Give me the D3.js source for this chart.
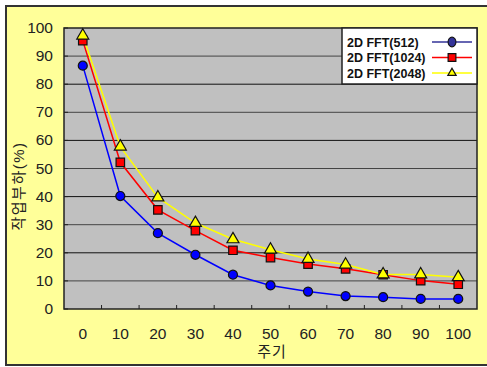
<!DOCTYPE html>
<html>
<head>
<meta charset="utf-8">
<script src="https://cdn.jsdelivr.net/npm/d3@7"></script>
<style>
body { margin: 0; background: #fff; }
text { font-family: "Liberation Sans", Arial, "Noto Sans CJK KR", sans-serif; }
</style>
</head>
<body>
<svg width="487" height="367"></svg>
<script>
var periods = [0, 10, 20, 30, 40, 50, 60, 70, 80, 90, 100];
var fft512 = [86.6, 40.2, 27.0, 19.3, 12.2, 8.4, 6.2, 4.6, 4.2, 3.6, 3.6];
var fft1024 = [95.5, 52.2, 35.3, 27.9, 20.9, 18.3, 16.0, 14.3, 12.2, 10.1, 8.8];
var fft2048 = [97.3, 57.8, 39.7, 30.6, 24.8, 21.1, 17.8, 15.8, 12.3, 12.3, 11.3];
var seriesNames = ['2D FFT(512)', '2D FFT(1024)', '2D FFT(2048)'];
var yTicks = [0, 10, 20, 30, 40, 50, 60, 70, 80, 90, 100];

var svg = d3.select('svg');

// outer chart area
svg.append('rect')
    .attr('x', 6).attr('y', 6)
    .attr('width', 490).attr('height', 359)
    .attr('fill', '#FFFF99')
    .attr('stroke', '#333')
    .attr('stroke-width', 2);

var plotL = 64, plotR = 477, plotT = 28, plotB = 309;

var scaleX = d3.scaleBand().domain(periods).range([plotL, plotR]).padding(0);
var scaleY = d3.scaleLinear().domain([0, 100]).range([plotB, plotT]);

function cx(d, i) { return scaleX(periods[i]) + scaleX.bandwidth() / 2; }

svg.append('rect')
    .attr('x', plotL).attr('y', plotT)
    .attr('width', plotR - plotL).attr('height', plotB - plotT)
    .attr('fill', '#C0C0C0');

// grid
svg.selectAll('.grid')
    .data(yTicks.filter(function(d){ return d > 0 && d < 100; }))
    .enter()
    .append('line')
    .attr('x1', plotL).attr('x2', plotR)
    .attr('y1', function(d){ return scaleY(d); })
    .attr('y2', function(d){ return scaleY(d); })
    .attr('stroke', function(d){ return d % 20 == 0 ? '#111' : '#444'; })
    .attr('stroke-width', 1);

// x tick marks (inside, at band edges)
svg.selectAll('.xtick')
    .data(periods.slice(1))
    .enter()
    .append('line')
    .attr('x1', function(d){ return scaleX(d); })
    .attr('x2', function(d){ return scaleX(d); })
    .attr('y1', plotB).attr('y2', plotB - 4)
    .attr('stroke', '#222');

// y tick marks (inside)
svg.selectAll('.ytick')
    .data(yTicks)
    .enter()
    .append('line')
    .attr('x1', plotL).attr('x2', plotL + 4)
    .attr('y1', function(d){ return scaleY(d); })
    .attr('y2', function(d){ return scaleY(d); })
    .attr('stroke', '#222');

svg.append('rect')
    .attr('x', plotL).attr('y', plotT)
    .attr('width', plotR - plotL).attr('height', plotB - plotT)
    .attr('fill', 'none')
    .attr('stroke', '#222')
    .attr('stroke-width', 1.5);

// tick labels
svg.selectAll('.ylab')
    .data(yTicks)
    .enter()
    .append('text')
    .text(function(d){ return d; })
    .attr('x', 53)
    .attr('y', function(d){ return scaleY(d) + 5; })
    .attr('text-anchor', 'end')
    .attr('font-size', 15.5)
    .attr('fill', '#222');

svg.selectAll('.xlab')
    .data(periods)
    .enter()
    .append('text')
    .text(function(d){ return d; })
    .attr('x', function(d){ return scaleX(d) + scaleX.bandwidth() / 2; })
    .attr('y', 339)
    .attr('text-anchor', 'middle')
    .attr('font-size', 15.5)
    .attr('fill', '#222');

svg.append('text')
    .text('주기')
    .attr('x', 272).attr('y', 357)
    .attr('text-anchor', 'middle')
    .attr('font-size', 15)
    .attr('letter-spacing', 1)
    .attr('fill', '#222');

svg.append('text')
    .text('작업부하(%)')
    .attr('transform', 'translate(24,186)rotate(-90)')
    .attr('text-anchor', 'middle')
    .attr('font-size', 15)
    .attr('letter-spacing', 1.5)
    .attr('fill', '#222');

var line = d3.line()
    .x(cx)
    .y(function(d){ return scaleY(d); });

function drawSeries(values, color){
    svg.append('path')
        .datum(values)
        .attr('d', line)
        .attr('fill', 'none')
        .attr('stroke', color)
        .attr('stroke-width', 1.5);
}

drawSeries(fft512, '#0000FF');
drawSeries(fft1024, '#FF0000');
drawSeries(fft2048, '#FFFF00');

var circleSym = d3.symbol().type(d3.symbolCircle).size(64);
var squareSym = d3.symbol().type(d3.symbolSquare).size(72);
var triSym = d3.symbol().type(d3.symbolTriangle).size(62);

function drawMarkers(values, sym, fill){
    svg.append('g').selectAll('path')
        .data(values)
        .enter()
        .append('path')
        .attr('d', sym)
        .attr('transform', function(d, i){ return 'translate(' + cx(d, i) + ',' + scaleY(d) + ')'; })
        .attr('fill', fill)
        .attr('stroke', '#111')
        .attr('stroke-width', 1.2);
}

drawMarkers(fft512, circleSym, '#0000FF');
drawMarkers(fft1024, squareSym, '#FF0000');
drawMarkers(fft2048, triSym, '#FFFF00');

// legend
var legend = svg.append('g');
legend.append('rect')
    .attr('x', 342).attr('y', 28)
    .attr('width', 135).attr('height', 56)
    .attr('fill', '#fff')
    .attr('stroke', '#222')
    .attr('stroke-width', 1.5);

var legColors = ['#333399', '#FF0000', '#FFFF00'];
var legSyms = [d3.symbol().type(d3.symbolCircle).size(60),
               d3.symbol().type(d3.symbolSquare).size(60),
               d3.symbol().type(d3.symbolTriangle).size(30)];

seriesNames.forEach(function(name, i){
    var yy = 42 + i * 15.5;
    legend.append('text')
        .text(name)
        .attr('x', 347).attr('y', yy + 4.5)
        .attr('font-size', 12.5)
        .attr('font-weight', 'bold')
        .attr('fill', '#111');
    legend.append('line')
        .attr('x1', 432).attr('x2', 472)
        .attr('y1', yy).attr('y2', yy)
        .attr('stroke', legColors[i])
        .attr('stroke-width', 1.5);
    legend.append('path')
        .attr('d', legSyms[i])
        .attr('transform', 'translate(452,' + yy + ')' + (i == 0 ? 'scale(0.9,1.1)' : ''))
        .attr('fill', legColors[i])
        .attr('stroke', '#111')
        .attr('stroke-width', 1.2);
});
</script>
</body>
</html>
